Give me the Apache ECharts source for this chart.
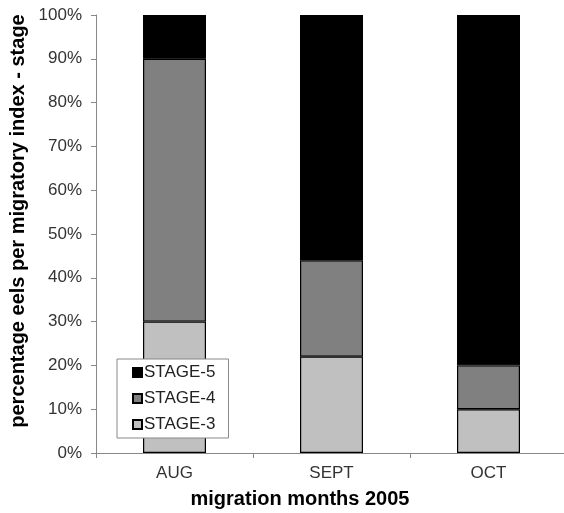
<!DOCTYPE html>
<html>
<head>
<meta charset="utf-8">
<script src="https://cdn.jsdelivr.net/npm/echarts@6/dist/echarts.min.js"></script>
<style>
  html, body { margin: 0; padding: 0; background: #fff; }
  #chart { width: 564px; height: 513px; }
</style>
</head>
<body>
<div id="chart"></div>
<script>
  // migration months
  var months = ['AUG', 'SEPT', 'OCT'];
  // percentage per stage
  var stage3 = [30, 22, 10];
  var stage4 = [60, 22, 10];
  var stage5 = [10, 56, 80];
  var stageNames = ['STAGE-3', 'STAGE-4', 'STAGE-5'];
  var stageColors = ['#c0c0c0', '#808080', '#000000'];

  var chart = echarts.init(document.getElementById('chart'));
  var values = [stage3, stage4, stage5];

  chart.setOption({
    animation: false,
    textStyle: { fontFamily: 'Liberation Sans, Arial, sans-serif' },
    grid: { left: 96, top: 15, width: 471, height: 438, outerBoundsMode: 'none', containLabel: false },
    legend: {
      data: ['STAGE-5', 'STAGE-4', 'STAGE-3'],
      orient: 'vertical',
      left: 117,
      top: 359,
      icon: 'rect',
      itemWidth: 9,
      itemHeight: 9,
      itemGap: 9,
      padding: [5, 13, 5, 15],
      backgroundColor: '#fff',
      borderColor: '#888',
      borderWidth: 1,
      borderRadius: 0,
      textStyle: { fontSize: 17, color: '#222', padding: [0, 0, 0, -3] }
    },
    xAxis: {
      type: 'category',
      data: months,
      axisLine: { lineStyle: { color: '#888', width: 1 } },
      axisTick: { show: true, length: 5, lineStyle: { color: '#888' } },
      axisLabel: { fontSize: 17, color: '#333', margin: 12 }
    },
    yAxis: {
      type: 'value',
      min: 0,
      max: 100,
      interval: 10,
      axisLine: { show: true, lineStyle: { color: '#888', width: 1 } },
      axisTick: { show: true, length: 5, lineStyle: { color: '#888' } },
      splitLine: { show: false },
      axisLabel: { fontSize: 17, color: '#333', margin: 14, formatter: '{value}%' }
    },
    graphic: [{
      type: 'text',
      x: 18,
      y: 221,
      rotation: Math.PI / 2,
      style: {
        text: 'percentage eels per migratory index - stage',
        font: 'bold 20px "Liberation Sans", Arial, sans-serif',
        fill: '#000',
        align: 'center',
        verticalAlign: 'middle'
      }
    }, {
      type: 'text',
      x: 300,
      y: 499,
      style: {
        text: 'migration months 2005',
        font: 'bold 20px "Liberation Sans", Arial, sans-serif',
        fill: '#000',
        align: 'center',
        verticalAlign: 'middle'
      }
    }],
    series: stageNames.map(function (name, i) {
      return {
        name: name,
        type: 'bar',
        stack: 'total',
        barWidth: 63,
        data: values[i],
        itemStyle: { color: stageColors[i], borderColor: '#000', borderWidth: 1.2 }
      };
    })
  });
</script>
</body>
</html>
